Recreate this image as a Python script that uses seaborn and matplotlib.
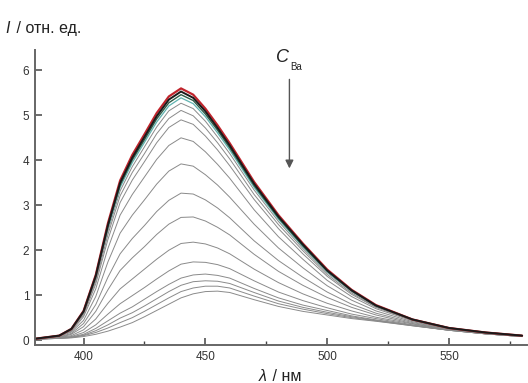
import matplotlib
matplotlib.use("Agg")
import matplotlib.pyplot as plt
import seaborn as sns
import pandas as pd

# wavelength grid (nm)
wl = [380, 390, 395, 400, 405, 410, 415, 420, 425, 430, 435, 440, 445,
      450, 455, 460, 470, 480, 490, 500, 510, 520, 535, 550, 565, 580]

# spectra, from highest (no Ba) to lowest
s00 = [0.03, 0.10, 0.25, 0.65, 1.45, 2.60, 3.55, 4.12, 4.58, 5.05, 5.42, 5.60, 5.46,
       5.15, 4.78, 4.38, 3.52, 2.78, 2.15, 1.57, 1.12, 0.78, 0.46, 0.27, 0.17, 0.10]
s01 = [0.03, 0.10, 0.25, 0.64, 1.43, 2.56, 3.50, 4.06, 4.52, 4.98, 5.35, 5.53, 5.39,
       5.09, 4.72, 4.33, 3.48, 2.75, 2.13, 1.55, 1.11, 0.77, 0.46, 0.27, 0.17, 0.10]
s02 = [0.03, 0.10, 0.24, 0.63, 1.41, 2.53, 3.45, 4.01, 4.46, 4.92, 5.28, 5.46, 5.33,
       5.03, 4.67, 4.28, 3.44, 2.72, 2.10, 1.54, 1.10, 0.77, 0.46, 0.27, 0.17, 0.10]
s03 = [0.03, 0.10, 0.24, 0.62, 1.39, 2.49, 3.40, 3.95, 4.40, 4.85, 5.21, 5.39, 5.26,
       4.97, 4.61, 4.23, 3.40, 2.69, 2.08, 1.52, 1.09, 0.76, 0.45, 0.27, 0.17, 0.10]
s04 = [0.03, 0.10, 0.24, 0.61, 1.36, 2.43, 3.32, 3.86, 4.30, 4.74, 5.10, 5.27, 5.15,
       4.87, 4.52, 4.15, 3.34, 2.64, 2.04, 1.50, 1.08, 0.75, 0.45, 0.27, 0.17, 0.10]
s05 = [0.03, 0.09, 0.23, 0.59, 1.31, 2.35, 3.21, 3.73, 4.15, 4.59, 4.93, 5.11, 4.99,
       4.72, 4.39, 4.03, 3.24, 2.57, 1.99, 1.46, 1.05, 0.74, 0.45, 0.26, 0.17, 0.10]
s06 = [0.03, 0.09, 0.22, 0.56, 1.25, 2.24, 3.06, 3.56, 3.97, 4.39, 4.73, 4.90, 4.80,
       4.54, 4.23, 3.88, 3.13, 2.48, 1.92, 1.42, 1.02, 0.73, 0.44, 0.26, 0.17, 0.10]
s07 = [0.03, 0.09, 0.20, 0.52, 1.14, 2.04, 2.78, 3.24, 3.63, 4.02, 4.33, 4.50, 4.42,
       4.19, 3.91, 3.60, 2.90, 2.30, 1.80, 1.33, 0.97, 0.70, 0.43, 0.26, 0.16, 0.10]
s08 = [0.03, 0.08, 0.18, 0.44, 0.97, 1.74, 2.38, 2.78, 3.12, 3.47, 3.76, 3.92, 3.87,
       3.68, 3.45, 3.18, 2.58, 2.05, 1.61, 1.21, 0.89, 0.65, 0.41, 0.25, 0.16, 0.09]
s09 = [0.03, 0.07, 0.15, 0.37, 0.79, 1.40, 1.92, 2.26, 2.55, 2.86, 3.11, 3.27, 3.25,
       3.12, 2.94, 2.72, 2.21, 1.77, 1.40, 1.07, 0.80, 0.60, 0.39, 0.25, 0.16, 0.09]
s10 = [0.02, 0.06, 0.13, 0.30, 0.64, 1.12, 1.55, 1.83, 2.08, 2.35, 2.58, 2.73, 2.74,
       2.65, 2.51, 2.34, 1.91, 1.53, 1.22, 0.95, 0.73, 0.56, 0.37, 0.24, 0.15, 0.09]
s11 = [0.02, 0.06, 0.10, 0.23, 0.47, 0.82, 1.14, 1.36, 1.58, 1.80, 2.00, 2.15, 2.18,
       2.14, 2.05, 1.92, 1.58, 1.28, 1.03, 0.82, 0.65, 0.51, 0.36, 0.23, 0.15, 0.09]
s12 = [0.02, 0.05, 0.08, 0.17, 0.34, 0.58, 0.81, 0.99, 1.17, 1.36, 1.54, 1.69, 1.74,
       1.73, 1.68, 1.59, 1.32, 1.07, 0.88, 0.72, 0.58, 0.48, 0.34, 0.23, 0.14, 0.08]
s13 = [0.02, 0.05, 0.07, 0.13, 0.26, 0.43, 0.60, 0.74, 0.91, 1.08, 1.24, 1.38, 1.45,
       1.47, 1.44, 1.38, 1.15, 0.94, 0.78, 0.66, 0.54, 0.45, 0.33, 0.22, 0.14, 0.08]
s14 = [0.02, 0.04, 0.06, 0.11, 0.21, 0.34, 0.49, 0.61, 0.76, 0.92, 1.08, 1.22, 1.30,
       1.32, 1.31, 1.26, 1.06, 0.87, 0.73, 0.62, 0.52, 0.44, 0.33, 0.22, 0.14, 0.08]
s15 = [0.02, 0.04, 0.06, 0.10, 0.17, 0.27, 0.39, 0.50, 0.64, 0.79, 0.94, 1.08, 1.16,
       1.20, 1.20, 1.16, 0.98, 0.81, 0.69, 0.59, 0.50, 0.43, 0.32, 0.22, 0.14, 0.08]
s16 = [0.02, 0.04, 0.05, 0.08, 0.13, 0.20, 0.29, 0.39, 0.52, 0.66, 0.80, 0.94, 1.03,
       1.08, 1.09, 1.06, 0.90, 0.75, 0.64, 0.56, 0.48, 0.42, 0.32, 0.22, 0.14, 0.08]

spectra = [s00, s01, s02, s03, s04, s05, s06, s07, s08, s09, s10, s11, s12, s13, s14, s15, s16]

x_ticks = [400, 450, 500, 550]
x_minor = [425, 475, 525, 575]
y_ticks = [0, 1, 2, 3, 4, 5, 6]

sns.set_style("ticks")
plt.rcParams['font.family'] = ['Liberation Sans', 'DejaVu Sans']

fig = plt.figure(figsize=(5.28, 3.83), dpi=100)
ax = fig.add_axes([0.066, 0.099, 0.932, 0.77])

grey = '#8a8a8a'
# grey curves first, coloured ones on top
for i in range(len(spectra) - 1, 3, -1):
    df = pd.DataFrame({'wl': wl, 'I': spectra[i]})
    sns.lineplot(data=df, x='wl', y='I', ax=ax, color=grey, lw=0.7)

sns.lineplot(x=wl, y=s03, ax=ax, color='#5fb3b0', lw=0.9)
sns.lineplot(x=wl, y=s02, ax=ax, color='#2f5e48', lw=1.0)
sns.lineplot(x=wl, y=s00, ax=ax, color='#c0242c', lw=1.6)
sns.lineplot(x=wl, y=s01, ax=ax, color='#1a1a1a', lw=1.4)

ax.set_xlim(380, 582)
ax.set_ylim(-0.11, 6.45)
ax.set_xticks(x_ticks)
ax.set_xticks(x_minor, minor=True)
ax.set_yticks(y_ticks)

for side in ['top', 'right']:
    ax.spines[side].set_visible(False)
for side in ['left', 'bottom']:
    ax.spines[side].set_color('#666666')
    ax.spines[side].set_linewidth(1.4)

ax.tick_params(axis='both', which='major', direction='in', length=5, width=1.1,
               color='#444444', labelsize=8.5, labelcolor='#333333', pad=4)
ax.tick_params(axis='x', which='minor', direction='in', length=3, width=1.0,
               color='#444444')

ax.set_xlabel('')
ax.set_ylabel('')

# axis titles
fig.text(0.011, 0.925, 'I', fontsize=11.5, color='#222222', style='italic',
         ha='left', va='center')
fig.text(0.022, 0.925, ' / отн. ед.', fontsize=11.5, color='#222222',
         ha='left', va='center')
fig.text(0.505, 0.018, 'λ', fontsize=11.5, color='#222222', style='italic',
         ha='right', va='center')
fig.text(0.508, 0.018, ' / нм', fontsize=11.5, color='#222222',
         ha='left', va='center')

# concentration arrow
ax.annotate('', xy=(484.5, 3.82), xytext=(484.5, 5.8),
            arrowprops=dict(arrowstyle='-|>', color='#555555', lw=1.0,
                            mutation_scale=12, shrinkA=0, shrinkB=0))
ax.text(484.5, 6.28, 'C', fontsize=13, style='italic', color='#222222',
        ha='right', va='center')
ax.text(484.8, 6.08, 'Ba', fontsize=7, color='#222222', ha='left', va='center')

fig.savefig('out.png', dpi=100)
